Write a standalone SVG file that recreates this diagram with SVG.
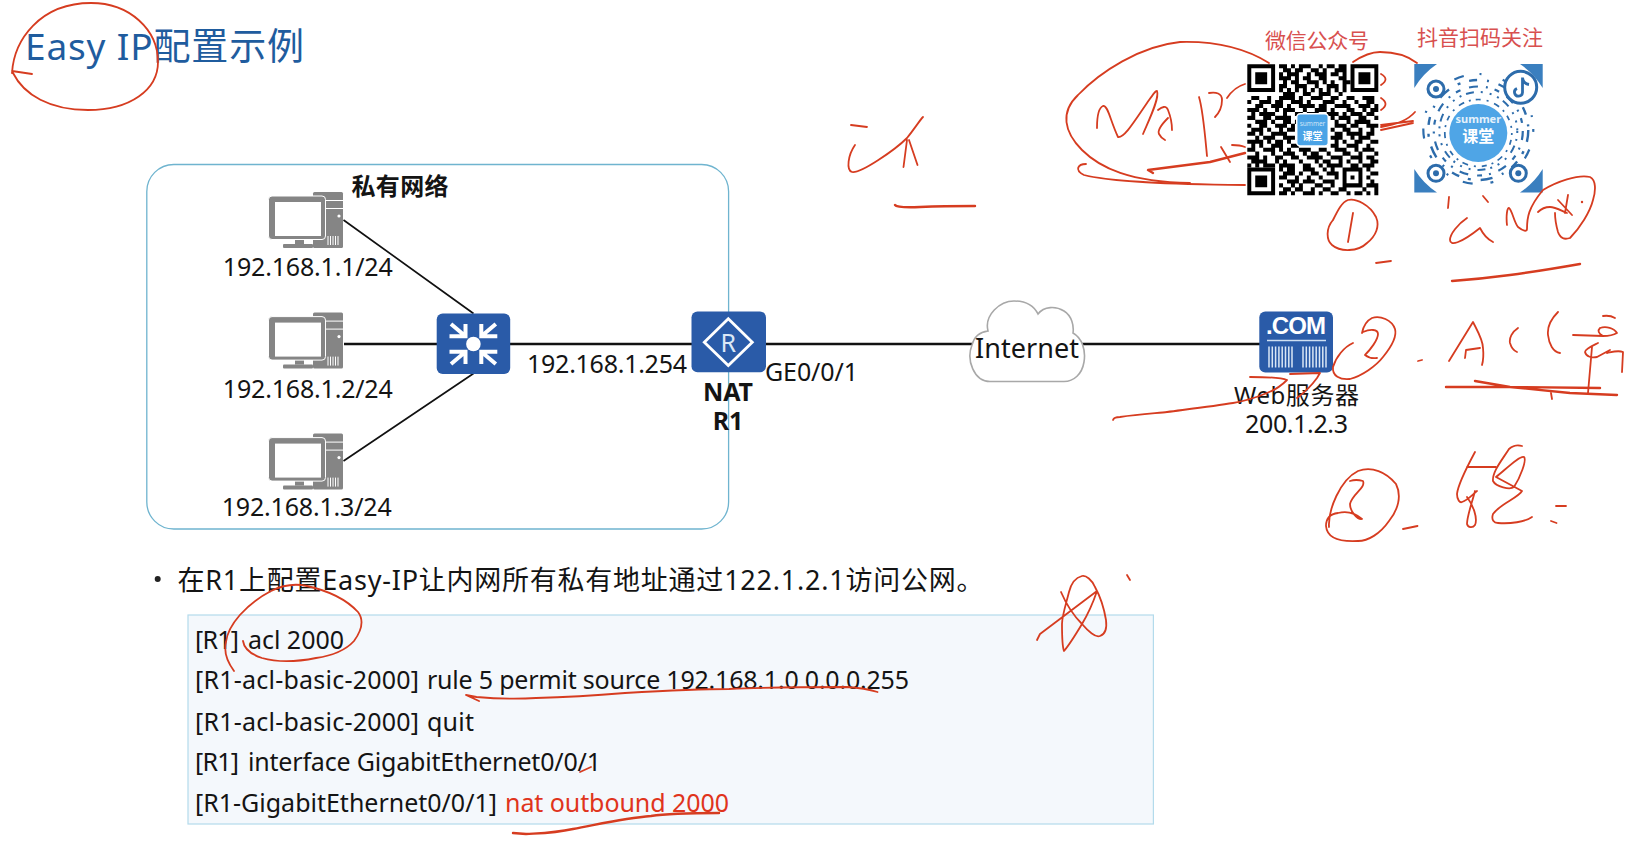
<svg xmlns="http://www.w3.org/2000/svg" xmlns:xlink="http://www.w3.org/1999/xlink" width="1632" height="848" viewBox="0 0 1632 848">
<style>
text{font-family:"Noto Sans","Noto Sans CJK SC","Liberation Sans",sans-serif;fill:#141414}
.ip{font-size:25px}
.cmd{font-size:25px}
.b{font-weight:700}
.qt{font-size:21px;fill:#d8504f}
.ink{fill:none;stroke:#d63c20;stroke-width:1.800;stroke-linecap:round;stroke-linejoin:round}
.ink2{fill:none;stroke:#d63c20;stroke-width:2.400;stroke-linecap:round;stroke-linejoin:round}
.conn{fill:none;stroke:#111;stroke-width:2.400}
.thin{fill:none;stroke:#111;stroke-width:1.700}
.nd{fill:#2a5ba8}
.sw{fill:none;stroke:#fff;stroke-width:4}
.rg{fill:none;stroke:#2d6cab}
</style>
<defs>
<g id="pc">
<rect x="313" y="192" width="30" height="56" rx="1.500" fill="#858585"/>
<path d="M326 200.500H343M326 208.500H343" stroke="#fff" stroke-width="1" fill="none"/>
<circle cx="339" cy="216" r="1.600" fill="#fff"/>
<path d="M328 236v9M330.500 236v9M333 236v9M335.500 236v9M338 236v9" stroke="#fff" stroke-width="1" fill="none"/>
<rect x="283" y="244" width="30" height="4" rx="1" fill="#858585"/>
<rect x="295" y="238" width="9" height="6" fill="#858585"/>
<rect x="268.500" y="196" width="57" height="43.500" rx="3.500" fill="#858585" stroke="#fff" stroke-width="1"/>
<rect x="275" y="202" width="46" height="34" fill="#fff"/>
</g>
<path id="arr" d="M465.500 324V336.200H449.500M451 324L465.500 336.200"/>
</defs>

<g id="network-box"><rect x="146.800" y="164.500" width="581.800" height="364.500" rx="27" fill="#fff" stroke="#6fb4cf" stroke-width="1.300"/>
<text x="351.500" y="194.500" class="b" font-size="24" textLength="97">私有网络</text></g>

<text id="title" x="25" y="59.500" font-size="37" style="fill:#1f5c9e" textLength="279">Easy IP配置示例</text>

<g id="connectors">
<path class="thin" d="M343.500 220L473.500 313.500M473.500 373.500L343.500 461"/>
<path class="conn" d="M344 344H437M510 344H692M766 344H972M1082 344H1260"/>
</g>

<g id="pc1"><use xlink:href="#pc" href="#pc"/><text class="ip" x="222.800" y="276" textLength="170">192.168.1.1/24</text></g>
<g id="pc2"><use xlink:href="#pc" href="#pc" y="120.600"/><text class="ip" x="222.800" y="398" textLength="170">192.168.1.2/24</text></g>
<g id="pc3"><use xlink:href="#pc" href="#pc" y="241.600"/><text class="ip" x="221.700" y="516" textLength="170">192.168.1.3/24</text></g>

<g id="switch"><rect class="nd" x="436.700" y="313.500" width="73.500" height="60.500" rx="6"/>
<circle cx="473.400" cy="344" r="7.300" fill="#fff"/>
<g class="sw"><use xlink:href="#arr" href="#arr"/><use xlink:href="#arr" href="#arr" transform="translate(946.800 0) scale(-1 1)"/><use xlink:href="#arr" href="#arr" transform="translate(0 688) scale(1 -1)"/><use xlink:href="#arr" href="#arr" transform="translate(946.800 688) scale(-1 -1)"/></g></g>

<g id="r1"><rect class="nd" x="691.500" y="311.500" width="74.500" height="60.700" rx="6"/>
<path d="M728.300 318.800L752.300 342.200L728.300 365.500L704.300 342.200Z" fill="none" stroke="#fff" stroke-width="2.800"/>
<text x="728.300" y="351.500" font-size="25" text-anchor="middle" style="fill:#dbe8f6">R</text>
<text class="b" x="728" y="401" font-size="25" text-anchor="middle" textLength="50">NAT</text>
<text class="b" x="728" y="430" font-size="25" text-anchor="middle">R1</text></g>
<text class="ip" x="527" y="373" textLength="160">192.168.1.254</text>
<text class="ip" x="765" y="381" textLength="93">GE0/0/1</text>

<g id="internet"><path d="M990 381.500C974 381.500 966 360 972 345C974 337 980 332 988 331C984 315 1000 301 1014 301C1026 301 1034 306 1038 314C1044 306 1056 306 1064 311C1072 316 1074 326 1073 333C1082 338 1086 350 1084 362C1082 374 1074 381.500 1064 381.500Z" fill="#fff" stroke="#a8a8a8" stroke-width="1.600"/>
<text x="975" y="358" font-size="27" textLength="104">Internet</text></g>

<g id="web"><rect class="nd" x="1259.300" y="311.500" width="73.700" height="61" rx="6"/>
<text x="1266" y="334" font-size="24" style="fill:#fff;font-family:'Liberation Sans',sans-serif;font-weight:700" textLength="60">.COM</text>
<path d="M1267 340.500H1326" stroke="#cfe0f3" stroke-width="1.700" fill="none"/>
<path d="M1269 346.500v21M1272.300 346.500v21M1275.600 346.500v21M1278.900 346.500v21M1282.200 346.500v21M1285.500 346.500v21M1288.800 346.500v21M1292 346.500v21M1303 346.500v21M1306.300 346.500v21M1309.600 346.500v21M1312.900 346.500v21M1316.200 346.500v21M1319.500 346.500v21M1322.800 346.500v21M1326 346.500v21" stroke="#d9e6f5" stroke-width="1.500" fill="none"/>
<text x="1234" y="403.500" font-size="24" textLength="125">Web服务器</text>
<text x="1245" y="433" font-size="25" textLength="103">200.1.2.3</text></g>

<text x="1265" y="47.500" class="qt" textLength="104">微信公众号</text>
<text x="1417" y="44.500" class="qt" textLength="126">抖音扫码关注</text>

<g id="wechat-qr"><g transform="translate(1247.300 64.300) scale(3.970)">
<path fill="none" stroke="#000" stroke-width="1.020" d="M8 .5h2M11 .5h1M13 .5h3M18 .5h1M20 .5h2M23 .5h2M9 1.500h2M12 1.500h2M16 1.500h2M19 1.500h1M22 1.500h3M8 2.500h1M10 2.500h3M15 2.500h1M17 2.500h3M21 2.500h2M24 2.500h1M8 3.500h3M12 3.500h1M14 3.500h2M18 3.500h2M23 3.500h2M9 4.500h1M11 4.500h2M15 4.500h3M19 4.500h1M21 4.500h1M24 4.500h2M8 5.500h2M12 5.500h3M17 5.500h1M20 5.500h3M24 5.500h1M8 6.500h1M10 6.500h1M12 6.500h1M14 6.500h1M16 6.500h1M18 6.500h1M20 6.500h1M22 6.500h1M24 6.500h1M9 7.500h3M14 7.500h2M18 7.500h3M23 7.500h1M1 8.500h2M5 8.500h1M8 8.500h4M13 8.500h1M16 8.500h3M21 8.500h2M25 8.500h2M29 8.500h3M0 9.500h1M3 9.500h3M7 9.500h2M11 9.500h3M15 9.500h1M19 9.500h3M24 9.500h1M27 9.500h1M30 9.500h2M2 10.500h2M6 10.500h3M10 10.500h1M13 10.500h4M18 10.500h2M22 10.500h4M28 10.500h3M32 10.500h1M0 11.500h3M4 11.500h1M7 11.500h1M9 11.500h3M14 11.500h1M17 11.500h3M21 11.500h1M25 11.500h2M29 11.500h1M31 11.500h2M1 12.500h1M3 12.500h4M9 12.500h1M12 12.500h2M15 12.500h3M20 12.500h3M24 12.500h1M26 12.500h3M30 12.500h2M0 13.500h2M4 13.500h2M7 13.500h4M13 13.500h1M17 13.500h2M21 13.500h1M23 13.500h3M28 13.500h2M32 13.500h1M2 14.500h3M6 14.500h1M9 14.500h2M12 14.500h3M22 14.500h1M25 14.500h1M27 14.500h4M0 15.500h1M3 15.500h2M7 15.500h3M11 15.500h1M22 15.500h3M26 15.500h2M30 15.500h3M1 16.500h3M5 16.500h1M8 16.500h1M10 16.500h2M21 16.500h1M24 16.500h2M28 16.500h1M31 16.500h1M0 17.500h2M3 17.500h1M6 17.500h4M22 17.500h2M25 17.500h4M30 17.500h2M2 18.500h1M4 18.500h3M9 18.500h3M21 18.500h3M26 18.500h1M28 18.500h3M0 19.500h4M5 19.500h1M7 19.500h2M10 19.500h1M22 19.500h1M24 19.500h1M27 19.500h2M31 19.500h2M1 20.500h1M3 20.500h1M6 20.500h3M11 20.500h2M21 20.500h2M25 20.500h3M30 20.500h1M0 21.500h2M4 21.500h3M8 21.500h1M10 21.500h1M13 21.500h3M18 21.500h2M22 21.500h3M27 21.500h1M29 21.500h3M2 22.500h1M6 22.500h1M9 22.500h3M14 22.500h1M16 22.500h2M20 22.500h1M24 22.500h2M28 22.500h1M32 22.500h1M0 23.500h3M4 23.500h1M7 23.500h2M11 23.500h2M15 23.500h4M21 23.500h3M26 23.500h3M30 23.500h2M1 24.500h4M7 24.500h1M9 24.500h1M13 24.500h1M17 24.500h1M19 24.500h2M23 24.500h1M25 24.500h1M28 24.500h1M31 24.500h2M0 25.500h1M2 25.500h1M4 25.500h3M8 25.500h4M14 25.500h2M18 25.500h1M20 25.500h4M26 25.500h2M29 25.500h3M8 26.500h1M10 26.500h2M14 26.500h3M19 26.500h1M21 26.500h1M24 26.500h5M30 26.500h1M9 27.500h3M13 27.500h1M16 27.500h2M20 27.500h3M24 27.500h1M28 27.500h1M31 27.500h2M8 28.500h2M12 28.500h1M15 28.500h1M18 28.500h1M22 28.500h1M24 28.500h1M26 28.500h1M28 28.500h1M30 28.500h1M10 29.500h3M14 29.500h3M19 29.500h3M24 29.500h1M28 29.500h1M31 29.500h1M8 30.500h1M11 30.500h1M13 30.500h1M17 30.500h2M21 30.500h1M24 30.500h5M30 30.500h3M9 31.500h2M12 31.500h2M16 31.500h1M19 31.500h2M23 31.500h2M29 31.500h1M32 31.500h1M8 32.500h2M11 32.500h1M14 32.500h3M18 32.500h1M21 32.500h2M25 32.500h1M27 32.500h2M30 32.500h1M32 32.500h1"/>
<path fill="#000" fill-rule="evenodd" d="M0 0h7v7h-7zM1 1v5h5v-5zM26 0h7v7h-7zM27 1v5h5v-5zM0 26h7v7h-7zM1 27v5h5v-5z"/>
<path fill="#000" d="M2 2h3v3h-3zM28 2h3v3h-3zM2 28h3v3h-3z"/>
</g>
<rect x="1296.700" y="113.700" width="31.600" height="32.300" rx="3.500" fill="#4aa3e6" stroke="#fff" stroke-width="1.500"/>
<text x="1312.500" y="126" font-size="6.500" text-anchor="middle" style="fill:#cfe6f8">summer</text>
<text x="1312.500" y="140" font-size="10" text-anchor="middle" style="fill:#fff;font-weight:700">课堂</text></g>

<g id="douyin-qr">
<path fill="#3a7fbf" d="M1414.300 64H1437A76 76 0 0 0 1414.300 88ZM1542.700 64H1520A76 76 0 0 1 1542.700 88ZM1414.300 192.500H1437A76 76 0 0 1 1414.300 169ZM1542.700 192.500H1520A76 76 0 0 0 1542.700 169Z"/>
<circle cx="1478.300" cy="133" r="29" fill="#4fa5e6"/>
<text x="1478.300" y="123" font-size="11" text-anchor="middle" style="fill:#e4f1fb;font-weight:700">summer</text>
<text x="1478.300" y="142" font-size="16" text-anchor="middle" style="fill:#fff;font-weight:700">课堂</text>
<g class="rg">
<circle cx="1478.300" cy="133" r="33.500" stroke-width="1.700" stroke-dasharray="2 5 5 6 2 6 6 5"/>
<circle cx="1478.300" cy="131" r="39" stroke-width="2" stroke-dasharray="2 6 2 5 8 7 2 7"/>
<circle cx="1478.300" cy="131" r="44.500" stroke-width="2.200" stroke-dasharray="9 8 2 7 5 9"/>
<circle cx="1478.300" cy="130" r="50" stroke-width="2.400" stroke-dasharray="12 10 3 9 8 10 2 10"/>
<circle cx="1478.300" cy="129" r="55" stroke-width="2.200" stroke-dasharray="3 18 10 16 2 22"/>
<circle cx="1436" cy="89" r="8" stroke-width="3" fill="#fff"/><circle cx="1436" cy="173.300" r="8" stroke-width="3" fill="#fff"/><circle cx="1518.300" cy="173.300" r="8" stroke-width="3" fill="#fff"/>
<circle cx="1520.700" cy="87.300" r="16" stroke-width="3" fill="#fff"/>
<path d="M1522.500 77.500V92.500A4 4 0 1 1 1517 88.500M1522.500 78C1523 82 1526 84 1529 84.500" stroke-width="2.800"/>
</g>
<circle cx="1436" cy="89" r="3" fill="#2d6cab"/><circle cx="1436" cy="173.300" r="3" fill="#2d6cab"/><circle cx="1518.300" cy="173.300" r="3" fill="#2d6cab"/>
</g>

<g id="task"><circle cx="157.700" cy="579" r="3" fill="#222"/>
<text x="177.500" y="589.500" font-size="27" textLength="806">在R1上配置Easy-IP让内网所有私有地址通过122.1.2.1访问公网。</text></g>

<g id="commands"><rect x="188" y="615" width="965.400" height="209" fill="#f4f8fc" stroke="#b3dbec" stroke-width="1.200"/>
<text class="cmd" x="195" y="649" textLength="44">[R1]</text><text class="cmd" x="248" y="649" textLength="96">acl 2000</text>
<text class="cmd" x="195" y="689.300" textLength="224">[R1-acl-basic-2000]</text><text class="cmd" x="427" y="689.300" textLength="482">rule 5 permit source 192.168.1.0 0.0.0.255</text>
<text class="cmd" x="195" y="730.700" textLength="224">[R1-acl-basic-2000]</text><text class="cmd" x="427" y="730.700" textLength="47">quit</text>
<text class="cmd" x="195" y="771" textLength="44">[R1]</text><text class="cmd" x="248" y="771" textLength="353">interface GigabitEthernet0/0/1</text>
<text class="cmd" x="195" y="811.700" textLength="302">[R1-GigabitEthernet0/0/1]</text>
<text class="cmd" x="505" y="811.700" textLength="224" style="fill:#e0341c">nat outbound 2000</text></g>

<g id="annotations">
<path class="ink" d="M32 74L12 71M12 73C14 40 40 3 91 3C130 3 158 30 158 62C158 90 130 110 88 110C50 110 24 95 13 73"/>
<path class="ink" d="M851 125L867 127M855 145C848 155 846 170 852 172C860 174 895 150 907 138C915 128 920 120 923 117M907 140L903.500 167M909 140L917.500 165"/>
<path class="ink2" d="M895 205Q897 208 920 207T975 206"/>
<path class="ink" d="M1269 63C1245 48 1215 41 1180 42C1140 46 1100 72 1078 95C1060 112 1064 132 1082 150C1100 168 1130 182 1190 183"/>
<path class="ink" d="M1086 164C1078 164 1074 170 1084 175C1110 182 1170 184 1245 185"/>
<path class="ink" d="M1097 128C1097 118 1098 108 1103 106C1108 105 1110 120 1118 137C1124 138 1132 125 1147 103C1152 96 1156 90 1157 91C1160 98 1148 122 1143 134"/>
<path class="ink" d="M1158 110C1162 107 1166 105 1168 110C1170 115 1172 125 1172 130M1168 118C1162 124 1157 130 1159 134Q1161 138 1165 140"/>
<path class="ink" d="M1199 97C1203 110 1205 135 1207 156M1209 93C1216 92 1222 93 1222 100C1222 108 1218 114 1215 117M1227 98C1231 92 1238 86 1245 84"/>
<path class="ink2" d="M1153 173L1148 170L1210 162L1245 153"/>
<path class="ink" d="M1221 147L1230 162M1232 145Q1240 145 1245 147"/>
<path class="ink" d="M1353 62C1362 56 1370 52 1380 52C1395 52 1408 56 1417 63"/>
<path class="ink" d="M1381 74Q1390 79 1381 85M1381 98Q1390 104 1381 110M1381 127C1395 125 1408 120 1415 112M1381 130L1413 123M1381 125L1413 121"/>
<path class="ink" d="M1333 220C1326 228 1326 240 1332 245C1340 252 1358 252 1367 243C1376 236 1380 226 1376 217C1370 205 1356 198 1348 200C1342 202 1338 210 1333 220M1353 213L1348 242M1376 263L1391 261"/>
<path class="ink" d="M1449 197L1448 208M1483 196L1488 202M1467 218C1458 224 1450 234 1450 240C1450 246 1460 244 1480 228Q1485 238 1493 242"/>
<path class="ink" d="M1507 225C1506 216 1507 208 1509 208C1512 210 1514 222 1518 227C1523 231 1527 232 1527 229C1527 218 1528 208 1543 190C1556 182 1578 174 1590 177C1596 180 1596 190 1593 200C1590 212 1580 228 1570 238C1564 240 1560 238 1558 232C1556 225 1555 218 1555 213"/>
<path class="ink" d="M1538 212C1542 208 1546 207 1550 207C1555 207 1562 211 1567 213M1558 200L1572 215M1568 195L1565 213"/>
<circle cx="1582" cy="202" r="1.200" fill="#d63c20"/>
<path class="ink2" d="M1452 281Q1480 279 1510 275T1580 264"/>
<path class="ink" d="M1353 343C1344 347 1336 357 1333 367C1332 376 1340 380 1350 379C1362 376 1376 366 1383 357C1392 346 1397 336 1395 329C1392 320 1380 315 1372 318C1366 321 1363 328 1362 333M1363 332C1370 329 1378 329 1378 334C1378 340 1370 350 1365 355Q1370 359 1377 358"/>
<path class="ink" d="M1418 361L1422 360"/>
<path class="ink" d="M1449 361L1473 322C1478 332 1483 340 1483 348Q1484 358 1482 365M1465 358L1466 350L1480 348"/>
<path class="ink" d="M1518 328C1512 332 1509 338 1510 343Q1512 350 1517 352M1558 312C1552 318 1547 326 1548 335C1549 344 1553 352 1560 353"/>
<path class="ink" d="M1603 316Q1610 315 1615 318M1573 335L1603 336Q1612 336 1617 333C1614 328 1606 326 1600 328Q1596 332 1603 336M1598 343C1592 346 1585 349 1585 352C1586 357 1592 358 1597 357L1610 350M1592 347L1588 393M1607 353C1612 352 1618 350 1623 352L1622 372"/>
<path class="ink2" d="M1446 387L1510 387L1600 388M1475 381L1510 387L1570 393L1617 395"/>
<path class="ink" d="M1551 393L1552 399"/>
<path class="ink" d="M1329 527C1328 510 1340 480 1358 471C1372 466 1386 472 1396 484C1402 496 1398 510 1389 521C1380 534 1368 541 1358 541C1340 542 1327 538 1326 526C1326 518 1330 514 1338 513C1346 511 1354 512 1362 519C1358 520 1350 512 1350 504C1352 494 1366 488 1363 481Q1356 479 1350 481"/>
<path class="ink" d="M1403 529L1417.500 526M1467 467H1496M1475 452C1468 465 1458 484 1457 494C1457 500 1460 503 1462 502C1468 500 1473 494 1477 491M1475 491C1472 503 1467 516 1467 524C1468 528 1473 528 1475 525C1478 518 1473 505 1467 497"/>
<path class="ink" d="M1522 446C1516 444 1511 447 1509 449C1502 460 1492 472 1493 481C1496 487 1510 490 1514 487C1520 478 1527 460 1524 457C1520 455 1505 470 1496 477L1522 491C1518 498 1500 504 1493 514C1491 520 1494 523 1498 523C1510 524 1525 522 1532 517"/>
<path class="ink" d="M1556 506H1566M1551 521L1556.500 523"/>
<path class="ink" d="M1037 640L1040 634L1097 591M1061 592C1067 606 1074 616 1082 624C1088 631 1096 638 1100 636C1106 634 1107 628 1106 620C1104 608 1100 596 1095 587C1092 580 1086 575 1082 576C1074 578 1071 584 1069 592C1066 604 1062 616 1062 624C1062 636 1062 646 1064 651C1070 644 1076 634 1082 624C1088 614 1094 600 1097 591M1127 575L1130 580"/>
<path class="ink" d="M234 671C226 660 224 650 226 642C228 625 246 604 271 591C285 584 298 584 307 586C325 590 345 598 358 612C364 620 362 630 354 641C344 652 330 656 316 658C296 662 276 662 262 658C250 654 244 648 243 641"/>
<path class="ink" d="M479 701L466 695L476.500 697C500 699 520 699 536 698C570 697 600 695 625 693C660 691 700 689 729 689C770 687 800 687 847 687Q865 688 877.500 692"/>
<path class="ink" d="M580 772L591 767"/>
<path class="ink2" d="M513 833L526 834C545 833 555 833 573 829C600 824 625 818 651 816C670 813 690 813 719 813"/>
<path class="ink" d="M1113 420Q1114 417 1120 417C1140 414 1160 413 1167 412C1190 409 1215 406 1233 403C1245 401 1255 398 1267 393C1275 390 1282 385 1287 380C1280 377 1262 377 1250 377M1297 398C1305 392 1312 385 1317 378L1320 373L1290 374"/>
</g>
</svg>
